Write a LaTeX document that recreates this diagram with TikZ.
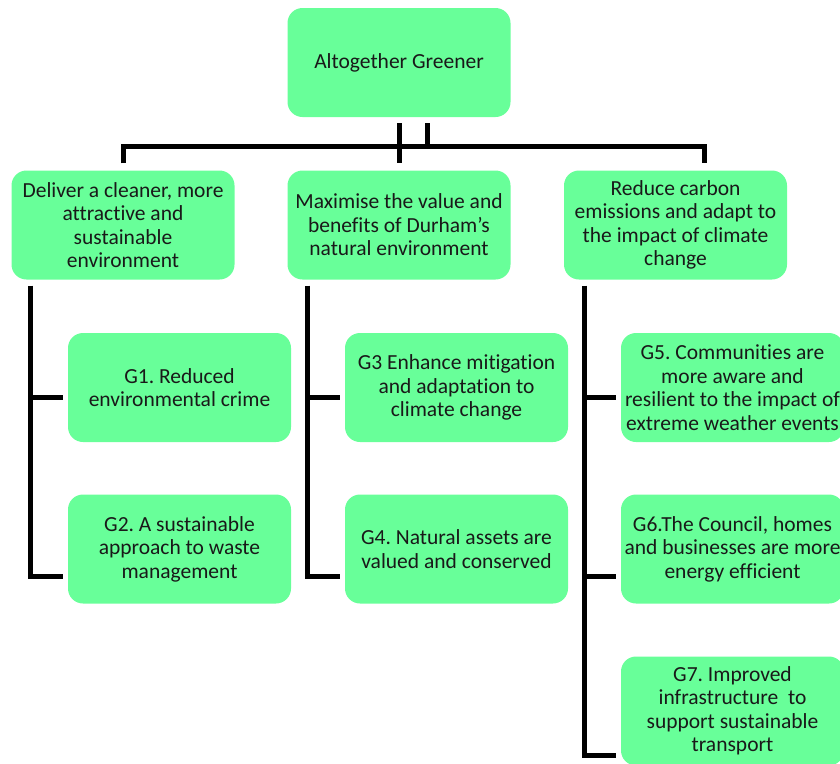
\documentclass[tikz,border=0pt]{standalone}
\usepackage{fontspec}
\setmainfont{Carlito}[Ligatures=NoCommon]
\usetikzlibrary{calc}
\definecolor{boxgreen}{RGB}{104,255,153}
\tikzset{
  gbox/.style={draw=none, fill=boxgreen, rounded corners=15pt, minimum width=223pt, minimum height=109pt,
    inner sep=0pt, align=center, font=\fontsize{21.5}{23.5}\selectfont\frenchspacing, text=black!90},
  conn/.style={line width=5pt, black, line join=miter}
}
\begin{document}
\begin{tikzpicture}[x=1pt,y=-1pt]
\useasboundingbox (0,0) rectangle (840,763);
\begin{scope}
\clip (0,0) rectangle (840,763);
\node[gbox] (top) at (399,62.5) {Altogether Greener};
\node[gbox] (A) at (123,225) {Deliver a cleaner, more\\attractive and\\sustainable\\environment};
\node[gbox] (B) at (399,225) {Maximise the value and\\benefits of Durham’s\\natural environment};
\node[gbox] (C) at (675.5,225) {Reduce carbon\\emissions and adapt to\\the impact of climate\\change};
\node[gbox] (G1) at (179.5,387.5) {G1. Reduced\\environmental crime};
\node[gbox] (G2) at (179.5,549) {G2. A sustainable\\approach to waste\\management};
\node[gbox] (G3) at (456.5,387.5) {G3 Enhance mitigation\\and adaptation to\\climate change};
\node[gbox] (G4) at (456.5,549) {G4. Natural assets are\\valued and conserved};
\node[gbox] (G5) at (732.5,387.5) {G5. Communities are\\more aware and\\resilient to the impact of\\extreme weather events};
\node[gbox] (G6) at (732.5,549) {G6.The Council, homes\\and businesses are more\\energy efficient};
\node[gbox] (G7) at (732.5,711) {G7. Improved\\infrastructure~ to\\support sustainable\\transport};

% top level connectors
\coordinate (hy) at (0,146.5);
\coordinate (t2) at ($(top.south)+(28,6)$);
\coordinate (dA) at ($(A.north)+(0.5,-7)$);
\coordinate (dC) at ($(C.north)+(29,-7)$);
\draw[conn] ($(top.south)+(0.5,6)$) -- ($(B.north)+(0.5,-7)$);
\draw[conn] (t2) -- (t2 |- hy);
\draw[conn] (dA) |- (dC |- hy) -- (dC);

% column coordinates
\coordinate (colA) at ($(A.south west)+(19.5,6)$);
\coordinate (colB) at ($(B.south west)+(20,6)$);
\coordinate (colC) at ($(C.south west)+(20.5,6)$);

% left column
\draw[conn] (colA) |- ($(G2.west)+(-5,27.5)$);
\draw[conn] ($(G1.west)+(-5,10)$) -| (colA);
% middle column
\draw[conn] (colB) |- ($(G4.west)+(-5,27.5)$);
\draw[conn] ($(G3.west)+(-5,10)$) -| (colB);
% right column
\draw[conn] (colC) |- ($(G7.west)+(-5,44)$);
\draw[conn] ($(G5.west)+(-5,10)$) -| (colC);
\draw[conn] ($(G6.west)+(-5,27.5)$) -| (colC);
\end{scope}
\end{tikzpicture}
\end{document}
